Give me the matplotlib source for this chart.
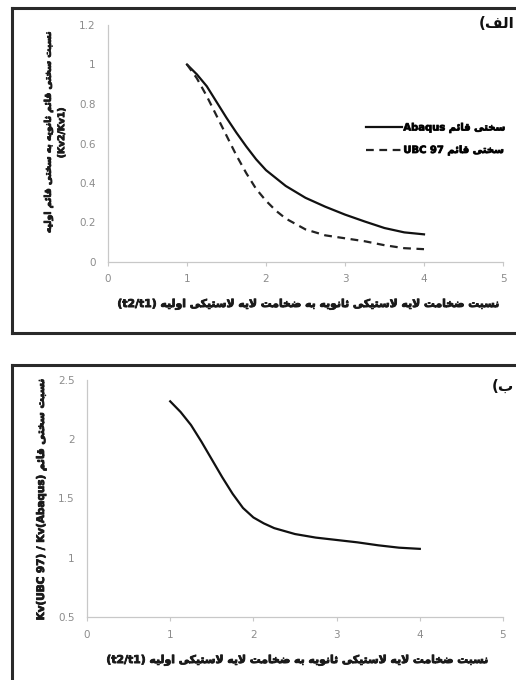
import matplotlib
matplotlib.use("Agg")
import matplotlib.pyplot as plt
import matplotlib.patheffects as pe
from matplotlib.lines import Line2D

# data
x_abaqus = [1, 1.125, 1.25, 1.375, 1.5, 1.625, 1.75, 1.875, 2, 2.25, 2.5, 2.75, 3, 3.25, 3.5, 3.75, 4]
kv_abaqus = [1.0, 0.95, 0.89, 0.81, 0.73, 0.655, 0.585, 0.52, 0.465, 0.385, 0.325, 0.28, 0.24, 0.205, 0.172, 0.15, 0.14]
x_ubc = [1, 1.125, 1.25, 1.375, 1.5, 1.625, 1.75, 1.875, 2, 2.125, 2.25, 2.5, 2.75, 3, 3.25, 3.5, 3.75, 4]
kv_ubc = [1.0, 0.93, 0.84, 0.74, 0.64, 0.54, 0.45, 0.37, 0.31, 0.26, 0.22, 0.165, 0.135, 0.12, 0.105, 0.085, 0.07, 0.065]
x_ratio = [1, 1.125, 1.25, 1.375, 1.5, 1.625, 1.75, 1.875, 2, 2.125, 2.25, 2.5, 2.75, 3, 3.25, 3.5, 3.75, 4]
kv_ratio = [2.32, 2.23, 2.12, 1.98, 1.83, 1.68, 1.54, 1.42, 1.34, 1.29, 1.25, 1.20, 1.17, 1.15, 1.13, 1.105, 1.085, 1.075]

x_ticks = [0, 1, 2, 3, 4, 5]
y_ticks_top = [0, 0.2, 0.4, 0.6, 0.8, 1, 1.2]
y_ticks_bottom = [0.5, 1, 1.5, 2, 2.5]

# simple persian shaping (presentation forms) + RTL reversal
FORMS = {
    'ا': ('\uFE8D', '\uFE8E', None, None),
    'ب': ('\uFE8F', '\uFE90', '\uFE91', '\uFE92'),
    'ت': ('\uFE95', '\uFE96', '\uFE97', '\uFE98'),
    'ث': ('\uFE99', '\uFE9A', '\uFE9B', '\uFE9C'),
    'خ': ('\uFEA5', '\uFEA6', '\uFEA7', '\uFEA8'),
    'س': ('\uFEB1', '\uFEB2', '\uFEB3', '\uFEB4'),
    'ض': ('\uFEBD', '\uFEBE', '\uFEBF', '\uFEC0'),
    'ف': ('\uFED1', '\uFED2', '\uFED3', '\uFED4'),
    'ق': ('\uFED5', '\uFED6', '\uFED7', '\uFED8'),
    'ل': ('\uFEDD', '\uFEDE', '\uFEDF', '\uFEE0'),
    'م': ('\uFEE1', '\uFEE2', '\uFEE3', '\uFEE4'),
    'ن': ('\uFEE5', '\uFEE6', '\uFEE7', '\uFEE8'),
    'ه': ('\uFEE9', '\uFEEA', '\uFEEB', '\uFEEC'),
    'و': ('\uFEED', '\uFEEE', None, None),
    'ئ': ('\uFE89', '\uFE8A', '\uFE8B', '\uFE8C'),
    'ی': ('\uFBFC', '\uFBFD', '\uFBFE', '\uFBFF'),
    'ک': ('\uFB8E', '\uFB8F', '\uFB90', '\uFB91'),
}


def dual(c):
    return c in FORMS and FORMS[c][2] is not None


def fa(text):
    res = []
    n = len(text)
    i = 0
    while i < n:
        c = text[i]
        prev = text[i - 1] if i > 0 else ''
        if c == 'ل' and i + 1 < n and text[i + 1] == 'ا':
            res.append('\uFEFC' if dual(prev) else '\uFEFB')
            i += 2
            continue
        if c in FORMS:
            nxt = text[i + 1] if i + 1 < n else ''
            jp = dual(prev)
            jn = dual(c) and nxt in FORMS
            iso, fin, ini, med = FORMS[c]
            if jp and jn:
                res.append(med)
            elif jp:
                res.append(fin)
            elif jn:
                res.append(ini)
            else:
                res.append(iso)
        else:
            res.append(c)
        i += 1
    return ''.join(res[::-1])


xlabel = "(t2/t1) " + fa("نسبت ضخامت لایه لاستیکی ثانویه به ضخامت لایه لاستیکی اولیه")
ylabel_top = fa("نسبت سختی قائم ثانویه به سختی قائم اولیه") + "\n(Kv2/Kv1)"
ylabel_bottom = "Kv(UBC 97) / Kv(Abaqus) " + fa("نسبت سختی قائم")
leg_abaqus = "Abaqus " + fa("سختی قائم")
leg_ubc = "UBC 97 " + fa("سختی قائم")

W, H = 516, 680
fig = plt.figure(figsize=(W / 100, H / 100), dpi=100)
fig.patch.set_facecolor("white")

tick_col = "#8c8c8c"
axis_col = "#c8c8c8"
heavy = [pe.withStroke(linewidth=0.6, foreground="#1a1a1a")]
lab_font = dict(family="DejaVu Sans", weight="bold", color="#1a1a1a", path_effects=heavy)


def style(ax):
    for s in ["top", "right"]:
        ax.spines[s].set_visible(False)
    for s in ["left", "bottom"]:
        ax.spines[s].set_color(axis_col)
        ax.spines[s].set_linewidth(0.9)
    ax.tick_params(colors=axis_col, labelcolor=tick_col, labelsize=7.5, length=3, width=0.8)
    ax.tick_params(axis="y", length=0, pad=9)
    ax.tick_params(axis="x", pad=6)


# top panel
ax1 = fig.add_axes([108 / W, 1 - 262 / H, (503 - 108) / W, (262 - 25) / H])
ax1.plot(x_abaqus, kv_abaqus, color="#111111", lw=1.6, label=leg_abaqus)
ax1.plot(x_ubc, kv_ubc, color="#222222", lw=1.6, ls=(0, (3.5, 2.5)), label=leg_ubc)
ax1.set_xlim(0, 5)
ax1.set_ylim(0, 1.2)
ax1.set_xticks(x_ticks)
ax1.set_yticks(y_ticks_top)
ax1.set_yticklabels(["0", "0.2", "0.4", "0.6", "0.8", "1", "1.2"])
style(ax1)
leg = ax1.legend(loc="center left", bbox_to_anchor=(0.63, 0.52), frameon=False,
                 handlelength=3.6, handletextpad=0.15, labelspacing=1.25,
                 prop=dict(family="DejaVu Sans", weight="bold", size=7.2))
for t in leg.get_texts():
    t.set_path_effects(heavy)

# bottom panel
ax2 = fig.add_axes([87 / W, 1 - 617 / H, (503 - 87) / W, (617 - 380) / H])
ax2.plot(x_ratio, kv_ratio, color="#111111", lw=1.6)
ax2.set_xlim(0, 5)
ax2.set_ylim(0.5, 2.5)
ax2.set_xticks(x_ticks)
ax2.set_yticks(y_ticks_bottom)
ax2.set_yticklabels(["0.5", "1", "1.5", "2", "2.5"])
style(ax2)

# axis labels
fig.text(308 / W, 1 - 304 / H, xlabel, ha="center", va="center", size=7.8, **lab_font)
fig.text(297 / W, 1 - 660 / H, xlabel, ha="center", va="center", size=7.8, **lab_font)
fig.text(55 / W, 1 - 133 / H, ylabel_top, ha="center", va="center", rotation=90,
         multialignment="center", linespacing=1.6, size=6.6, **lab_font)
fig.text(41 / W, 1 - 500 / H, ylabel_bottom, ha="center", va="center", rotation=90,
         size=7.5, **lab_font)

# panel tags
fig.text(514 / W, 1 - 24 / H, "(" + fa("الف"), ha="right", va="center",
         family="DejaVu Sans", weight="bold", size=11, color="#111111")
fig.text(514 / W, 1 - 386 / H, "(" + fa("ب"), ha="right", va="center",
         family="DejaVu Sans", weight="bold", size=11, color="#111111")

# panel frames
frame = dict(color="#2a2a2a", lw=2.2, transform=fig.transFigure)
fig.add_artist(Line2D([12 / W, 1.01], [1 - 8 / H, 1 - 8 / H], **frame))
fig.add_artist(Line2D([12 / W, 12 / W], [1 - 8 / H, 1 - 333 / H], **frame))
fig.add_artist(Line2D([12 / W, 1.01], [1 - 333 / H, 1 - 333 / H], **frame))
fig.add_artist(Line2D([12 / W, 1.01], [1 - 365 / H, 1 - 365 / H], **frame))
fig.add_artist(Line2D([12 / W, 12 / W], [1 - 365 / H, -0.01], **frame))

fig.savefig("out.png", dpi=100)
